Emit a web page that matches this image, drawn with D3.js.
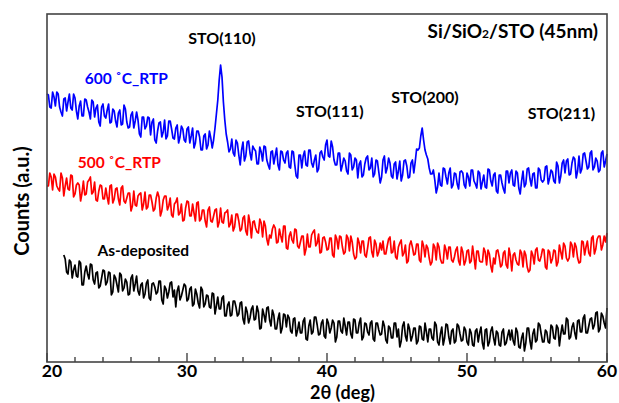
<!DOCTYPE html>
<html>
<head>
<meta charset="utf-8">
<script src="https://cdn.jsdelivr.net/npm/d3@7"></script>
<style>
  body { margin: 0; background: #fff; }
  text { font-family: Lato, "Open Sans", sans-serif; font-weight: bold; }
</style>
</head>
<body>
<div id="xrd"></div>
<script>
// 2theta grid: scan step 0.1 deg
const step = 0.1;
const blueStart = 20, redStart = 20, blackStart = 21.2;

// Counts (a.u.)
const blue600 = [
  268,267,255,254,270,265,256,270,268,255,250,246,263,264,251,260,268,254,252,268,
  264,251,243,256,261,246,246,263,262,255,250,243,262,260,245,254,257,240,236,255,
  258,246,244,252,258,239,240,253,251,241,235,249,252,237,238,257,253,240,234,235,
  247,250,234,241,250,242,228,225,245,245,233,236,245,244,227,240,243,222,219,231,
  239,240,225,230,242,223,226,241,241,233,224,223,234,237,219,225,236,233,222,220,
  233,235,219,226,234,214,219,231,231,225,212,212,226,228,213,217,231,224,214,222,
  234,248,262,282,297,285,260,242,228,220,210,213,223,209,206,222,219,207,197,212,
  220,201,206,220,221,209,202,216,213,211,198,198,215,210,201,216,215,202,197,193,
  210,211,198,206,214,197,192,211,210,202,199,209,211,195,194,211,210,197,186,184,
  207,207,194,206,211,197,196,212,212,199,195,202,207,190,193,209,211,205,202,217,
  222,206,205,221,215,202,197,197,209,209,191,197,204,201,191,188,209,207,192,195,
  204,202,184,198,201,185,187,198,204,206,192,194,204,185,188,202,201,190,179,185,
  202,206,189,194,204,199,186,184,198,200,183,191,201,181,187,201,202,196,184,185,
  199,202,189,200,213,212,214,226,234,222,212,207,203,194,188,188,192,182,169,175,
  189,177,176,194,193,185,178,189,194,174,177,189,188,178,173,190,191,189,177,174,
  189,185,176,192,192,181,178,174,191,189,173,180,187,175,174,193,192,181,176,187,
  189,171,169,187,187,179,173,169,191,191,179,189,192,177,176,191,189,174,168,181,
  191,175,178,193,194,183,176,188,189,174,174,194,192,182,180,182,195,196,178,184,
  192,190,181,179,200,196,179,186,199,202,189,201,203,187,188,199,205,203,184,191,
  206,189,193,208,209,201,193,195,209,211,192,195,204,201,190,192,209,211,195,201,
  208
];

const red500 = [
  176,176,189,185,172,188,185,176,173,171,189,184,166,176,184,173,172,187,186,165,
  168,177,179,177,161,169,181,167,168,180,182,185,168,170,180,162,161,171,177,176,
  163,163,174,165,158,176,177,159,163,173,174,163,157,174,176,161,159,164,169,169,
  151,156,171,157,156,166,168,169,152,158,170,153,155,167,167,160,151,153,164,170,
  165,146,151,162,166,166,152,156,164,147,145,158,160,164,147,149,158,141,142,154,
  161,160,146,146,158,149,141,159,160,141,143,152,152,141,135,152,155,141,140,146,
  152,153,135,140,154,140,139,149,150,152,135,138,147,131,135,148,148,141,131,133,
  144,146,131,127,147,139,124,140,141,134,130,129,143,139,125,141,136,123,117,127,
  124,133,137,134,119,120,133,126,120,136,136,114,113,126,130,122,119,133,132,116,
  114,120,126,126,107,113,128,115,115,127,130,132,116,119,128,109,110,124,125,120,
  112,113,124,124,107,105,127,123,113,126,125,115,108,110,127,124,111,126,120,108,
  103,105,124,119,109,121,121,107,105,114,124,125,110,105,122,118,106,110,119,112,
  121,108,108,116,123,125,109,110,121,105,103,115,119,122,106,109,117,99,101,117,
  121,115,107,108,118,118,102,100,121,116,105,117,114,104,97,100,118,115,102,119,
  115,103,99,99,117,112,103,115,115,102,100,105,112,115,101,97,115,110,97,101,
  111,112,99,101,116,105,93,111,111,101,100,100,114,110,97,112,108,96,90,104,
  98,111,112,105,95,97,109,111,97,94,114,106,91,107,109,102,98,97,112,109,
  95,111,107,95,90,92,111,107,98,112,114,102,101,106,113,112,95,93,112,110,
  99,103,112,111,96,100,117,110,103,119,116,104,101,104,120,117,105,119,115,104,
  99,100,121,120,107,115,121,109,106,124,126,108,113,123,126,126,112,117,126,120,
  129
];

const asDeposited = [
  107,103,90,88,102,100,84,92,97,86,85,101,99,77,77,90,96,88,83,98,
  97,82,78,89,90,74,76,84,92,91,77,80,90,89,67,70,87,84,77,70,
  89,87,71,74,83,80,67,68,84,87,71,78,86,71,67,77,79,64,68,79,
  82,64,62,78,79,75,68,70,81,81,62,58,76,73,64,70,79,80,65,72,
  55,71,76,62,66,72,78,76,61,63,73,75,56,58,73,68,59,54,75,72,
  55,58,67,66,55,54,69,68,48,56,65,53,53,64,66,46,46,57,60,46,
  47,61,61,55,46,48,59,60,43,38,55,50,39,44,53,56,42,43,56,50,
  33,34,53,47,40,54,55,42,36,52,47,33,33,43,49,29,34,48,47,35,
  47,44,31,29,43,44,26,32,40,29,29,41,44,23,22,36,42,28,30,45,
  45,37,27,28,39,42,26,24,43,39,29,34,42,39,20,25,41,41,31,29,
  44,36,27,40,40,28,24,43,42,29,29,39,44,22,25,39,38,30,27,39,
  41,23,21,39,39,32,27,28,41,36,22,19,36,34,24,24,39,39,25,33,
  15,21,36,40,26,21,38,33,21,26,34,34,18,21,36,35,23,22,39,30,
  20,33,33,24,22,40,37,20,17,28,35,17,24,38,37,25,18,31,33,19,
  21,38,36,28,21,22,35,32,20,17,33,29,17,16,31,33,20,29,35,19,
  13,32,33,16,20,31,35,24,17,31,29,17,16,30,33,17,19,26,32,22,
  32,21,17,34,30,15,14,24,29,11,19,34,34,21,13,28,33,20,22,39,
  37,28,20,20,32,30,20,19,37,35,24,23,37,34,16,28,37,28,28,44,
  42,23,25,35,39,29,23,41,42,30,30,44,47,29,29,36,43,44,33,37,
  49,50,30,33,49,46,39,34,54
];

const series = [
  { name: "600 ˚C_RTP", start: blueStart, values: blue600, color: "#0000ff" },
  { name: "500 ˚C_RTP", start: redStart, values: red500, color: "#ff0000" },
  { name: "As-deposited", start: blackStart, values: asDeposited, color: "#000000" }
];

const xTicks = [20, 30, 40, 50, 60];

const peakLabels = [
  { text: "STO(110)", x: 32.5, y: 318 },
  { text: "STO(111)", x: 40.2, y: 245 },
  { text: "STO(200)", x: 47.0, y: 259 },
  { text: "STO(211)", x: 56.75, y: 243 }
];

const width = 619;
const height = 403;
const margin = { top: 14, right: 12, bottom: 41, left: 47 };
const w = width - margin.left - margin.right;
const h = height - margin.top - margin.bottom;

const svg = d3.select("#xrd")
  .append("svg")
  .attr("width", width)
  .attr("height", height)
  .append("g")
  .attr("transform", `translate(${margin.left}, ${margin.top})`);

const xScale = d3.scaleLinear().domain([20, 60]).range([0, w]);
const yScale = d3.scaleLinear().domain([0, 348]).range([h, 0]);

const line = d3.line()
  .x(d => xScale(d[0]))
  .y(d => yScale(d[1]));

// traces
svg.selectAll(".trace")
  .data(series)
  .enter()
  .append("path")
  .attr("class", "trace")
  .attr("fill", "none")
  .attr("stroke", d => d.color)
  .attr("stroke-width", 1.7)
  .attr("stroke-linejoin", "round")
  .attr("d", d => line(d.values.map((v, i) => [d.start + i * step, v])));

// frame
svg.append("rect")
  .attr("width", w)
  .attr("height", h)
  .attr("fill", "none")
  .attr("stroke", "#444")
  .attr("stroke-width", 1.6);

// inward ticks on the bottom axis
const minor = d3.range(20, 61, 2);
svg.selectAll(".tick-mark")
  .data(minor)
  .enter()
  .append("line")
  .attr("class", "tick-mark")
  .attr("x1", d => xScale(d))
  .attr("x2", d => xScale(d))
  .attr("y1", h)
  .attr("y2", d => h - (d % 10 === 0 ? 9 : 5))
  .attr("stroke", "#444")
  .attr("stroke-width", 1.4);

svg.selectAll(".tick-label")
  .data(xTicks)
  .enter()
  .append("text")
  .attr("class", "tick-label")
  .attr("x", d => xScale(d))
  .attr("dx", (d, i) => i === 0 ? 5 : 0)
  .attr("y", h + 15)
  .attr("text-anchor", "middle")
  .attr("font-size", 17.5)
  .text(d => d);

// axis titles
svg.append("text")
  .attr("x", xScale(41.1))
  .attr("y", h + 37)
  .attr("text-anchor", "middle")
  .attr("font-size", 18)
  .text("2θ (deg)");

svg.append("text")
  .attr("transform", `translate(${-18}, ${h / 2 + 13}) rotate(-90)`)
  .attr("text-anchor", "middle")
  .attr("font-size", 20)
  .text("Counts (a.u.)");

// peak labels
svg.selectAll(".peak")
  .data(peakLabels)
  .enter()
  .append("text")
  .attr("class", "peak")
  .attr("x", d => xScale(d.x))
  .attr("y", d => yScale(d.y))
  .attr("text-anchor", "middle")
  .attr("font-size", 16)
  .text(d => d.text);

// series labels
const seriesLabels = [
  { x: 22.7, y: 278 },
  { x: 22.2, y: 194 },
  { x: 23.6, y: 106 }
];
svg.selectAll(".series-label")
  .data(series)
  .enter()
  .append("text")
  .attr("class", "series-label")
  .attr("x", (d, i) => xScale(seriesLabels[i].x))
  .attr("y", (d, i) => yScale(seriesLabels[i].y))
  .attr("font-size", 15.5)
  .attr("fill", d => d.color)
  .text(d => d.name);

// sample title
const title = svg.append("text")
  .attr("x", w - 9)
  .attr("y", 24)
  .attr("text-anchor", "end")
  .attr("font-size", 19);
title.append("tspan").text("Si/SiO");
title.append("tspan").attr("font-size", 12).text("2");
title.append("tspan").text("/STO (45nm)");
</script>
</body>
</html>
